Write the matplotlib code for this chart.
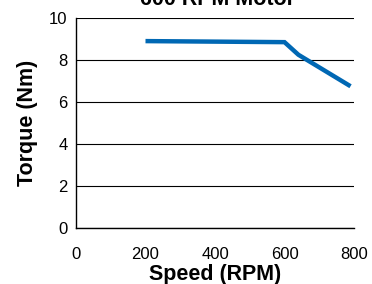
import matplotlib.pyplot as plt

speed = [200, 600, 640, 790]
torque = [8.9, 8.85, 8.25, 6.75]
xticks = [0, 200, 400, 600, 800]
yticks = [0, 2, 4, 6, 8, 10]

plt.rcParams['font.family'] = ['Liberation Sans', 'DejaVu Sans']

fig = plt.figure(figsize=(3.72, 2.84), dpi=100)
ax = fig.add_axes([76/372, 1 - 228/284, (354 - 76)/372, (228 - 18)/284])

ax.plot(speed, torque, color='#0068b4', linewidth=3.2, solid_capstyle='butt', solid_joinstyle='miter', zorder=3)

ax.set_xlim(0, 800)
ax.set_ylim(0, 10)
ax.set_xticks(xticks)
ax.set_yticks(yticks)
ax.yaxis.grid(True, color='black', linewidth=0.8)
ax.set_axisbelow(True)
for s in ['top', 'right']:
    ax.spines[s].set_visible(False)
for s in ['left', 'bottom']:
    ax.spines[s].set_linewidth(1)
ax.tick_params(axis='both', length=0, labelsize=12)
ax.tick_params(axis='x', pad=14)
ax.tick_params(axis='y', pad=6)

ax.set_xlabel('Speed (RPM)', fontsize=15.5, fontweight='bold', labelpad=1)
ax.set_ylabel('Torque (Nm)', fontsize=15.5, fontweight='bold', labelpad=8)

fig.text(218/372, 1 - 5/284, '600 RPM Motor', fontsize=15.5, fontweight='bold', ha='center', va='baseline')

fig.savefig('out.png', dpi=100)
